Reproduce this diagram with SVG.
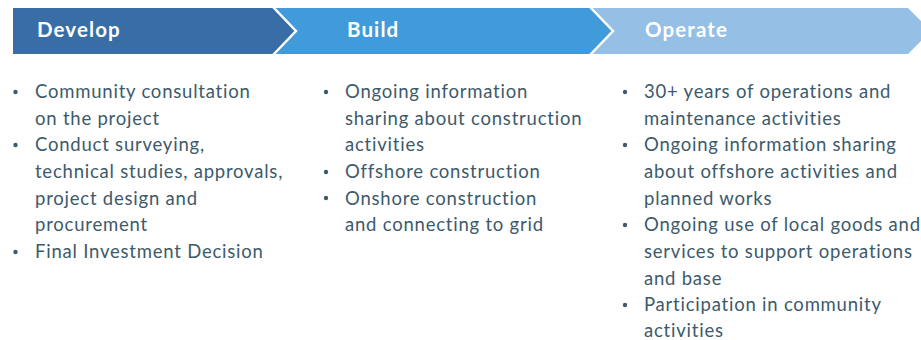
<svg xmlns="http://www.w3.org/2000/svg" width="921" height="340" viewBox="0 0 921 340">
<style>
.hd{font-family:"Lato","Liberation Sans",sans-serif;font-weight:700;font-size:20.5px;letter-spacing:1.1px;fill:#ffffff}
.tx{font-family:"Lato","Liberation Sans",sans-serif;font-size:18.5px;letter-spacing:0.78px;fill:#3d5a6b}
.dot{fill:#3d5a6b}
.sep{fill:none;stroke:#ffffff;stroke-width:2.5}
</style>
<rect width="921" height="340" fill="#ffffff"/>
<g id="develop">
<polygon points="13,8 273,8 296,31 273,54 13,54" fill="#386ea5"/>
<text class="hd" x="37" y="37">Develop</text>
<circle class="dot" cx="15.5" cy="92" r="2.2"/>
<circle class="dot" cx="15.5" cy="145" r="2.2"/>
<circle class="dot" cx="15.5" cy="252" r="2.2"/>
<text class="tx" x="35" y="98">Community consultation</text>
<text class="tx" x="35" y="125">on the project</text>
<text class="tx" x="35" y="151">Conduct surveying,</text>
<text class="tx" x="35" y="178">technical studies, approvals,</text>
<text class="tx" x="35" y="205">project design and</text>
<text class="tx" x="35" y="231">procurement</text>
<text class="tx" x="35" y="258">Final Investment Decision</text>
</g>
<g id="build">
<polygon points="273,8 590,8 613,31 590,54 273,54 296,31" fill="#419ad9"/>
<text class="hd" x="347" y="37">Build</text>
<circle class="dot" cx="326" cy="92" r="2.2"/>
<circle class="dot" cx="326" cy="172" r="2.2"/>
<circle class="dot" cx="326" cy="198" r="2.2"/>
<text class="tx" x="345" y="98">Ongoing information</text>
<text class="tx" x="345" y="125">sharing about construction</text>
<text class="tx" x="345" y="151">activities</text>
<text class="tx" x="345" y="178">Offshore construction</text>
<text class="tx" x="345" y="205">Onshore construction</text>
<text class="tx" x="345" y="231">and connecting to grid</text>
</g>
<g id="operate">
<polygon points="590,8 908,8 931,31 908,54 590,54 613,31" fill="#95bfe5"/>
<text class="hd" x="645" y="37">Operate</text>
<circle class="dot" cx="625" cy="92" r="2.2"/>
<circle class="dot" cx="625" cy="145" r="2.2"/>
<circle class="dot" cx="625" cy="225" r="2.2"/>
<circle class="dot" cx="625" cy="305" r="2.2"/>
<text class="tx" x="644" y="98">30+ years of operations and</text>
<text class="tx" x="644" y="125">maintenance activities</text>
<text class="tx" x="644" y="151">Ongoing information sharing</text>
<text class="tx" x="644" y="178">about offshore activities and</text>
<text class="tx" x="644" y="205">planned works</text>
<text class="tx" x="644" y="231">Ongoing use of local goods and</text>
<text class="tx" x="644" y="258">services to support operations</text>
<text class="tx" x="644" y="285">and base</text>
<text class="tx" x="644" y="311">Participation in community</text>
<text class="tx" x="644" y="337">activities</text>
</g>
<g id="connectors">
<polyline class="sep" points="273,7 296,31 273,55"/>
<polyline class="sep" points="590,7 613,31 590,55"/>
</g>
</svg>
